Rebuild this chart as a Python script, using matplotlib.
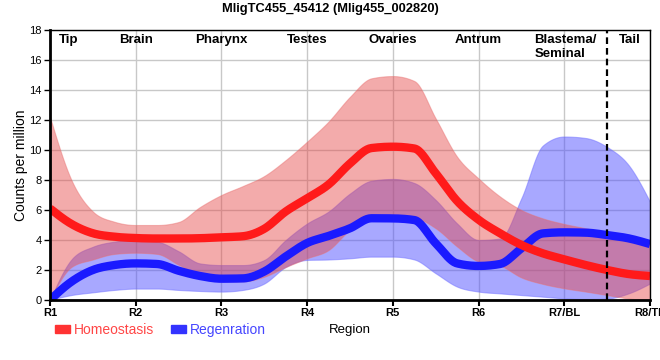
import numpy as np
import matplotlib
matplotlib.use('Agg')
import matplotlib.pyplot as plt
from matplotlib.patches import Patch

plt.rcParams['font.family'] = ['Liberation Sans', 'DejaVu Sans']

regions = ['R1', 'R2', 'R3', 'R4', 'R5', 'R6', 'R7/BL', 'R8/TL']
tissues = ['Tip', 'Brain', 'Pharynx', 'Testes', 'Ovaries', 'Antrum', 'Blastema/\nSeminal', 'Tail']

# values read every quarter region: R1, R1.25, R1.5, ... R8
homeo_mid = [6.1, 5.07, 4.45, 4.22, 4.13, 4.1, 4.1, 4.12, 4.18, 4.25, 4.75, 5.9, 6.78, 7.7, 9.1,
             10.13, 10.22, 10.1, 8.45, 6.6, 5.35, 4.45, 3.67, 3.11, 2.71, 2.33, 2.0, 1.73, 1.6]
homeo_lo = [0.0, 2.2, 2.7, 3.07, 3.15, 3.07, 2.35, 1.67, 1.25, 1.25, 1.55, 2.2, 2.78, 3.33, 4.67,
            5.38, 5.44, 5.44, 4.78, 3.56, 2.56, 2.3, 1.5, 1.07, 0.78, 0.56, 0.33, 0.1, 0.0]
homeo_hi = [12.2, 8.0, 5.9, 5.22, 5.0, 5.0, 5.2, 6.2, 7.0, 7.6, 8.27, 9.33, 10.56, 11.9, 13.55,
            14.78, 14.93, 14.6, 12.1, 9.55, 8.1, 6.9, 6.0, 5.44, 5.07, 4.78, 4.44, 4.11, 3.73]
regen_mid = [0.0, 1.22, 2.0, 2.33, 2.44, 2.4, 1.95, 1.6, 1.42, 1.44, 1.9, 2.9, 3.8, 4.27, 4.78,
             5.45, 5.44, 5.33, 3.78, 2.44, 2.27, 2.4, 3.44, 4.44, 4.51, 4.49, 4.33, 4.11, 3.73]
regen_lo = [0.0, 0.33, 0.51, 0.67, 0.76, 0.76, 0.67, 0.6, 0.56, 0.67, 1.1, 2.2, 2.67, 2.7, 2.78,
            2.89, 2.89, 2.7, 1.78, 0.89, 0.56, 0.44, 0.33, 0.22, 0.11, 0.07, 0.1, 0.44, 1.1]
regen_hi = [0.0, 2.7, 3.55, 3.89, 4.0, 3.89, 3.25, 2.44, 2.33, 2.33, 2.67, 4.0, 5.1, 5.9, 7.1,
            7.95, 8.07, 7.8, 6.67, 5.1, 4.0, 4.1, 6.8, 10.3, 10.9, 10.8, 10.2, 9.0, 6.55]


def monotone(x, y, n=20):
    # monotone cubic (like d3 curveMonotoneX), only used to draw the smooth curves
    x = np.asarray(x, float)
    y = np.asarray(y, float)
    h = np.diff(x)
    s = np.diff(y) / h
    m = np.zeros_like(y)
    for k in range(1, len(y) - 1):
        p = (s[k - 1] * h[k] + s[k] * h[k - 1]) / (h[k - 1] + h[k])
        m[k] = (np.sign(s[k - 1]) + np.sign(s[k])) * min(abs(s[k - 1]), abs(s[k]), 0.5 * abs(p))
    m[0] = (3 * s[0] - m[1]) / 2
    m[-1] = (3 * s[-1] - m[-2]) / 2
    xs, ys = [], []
    for k in range(len(h)):
        t = np.linspace(0, 1, n, endpoint=(k == len(h) - 1))
        h00 = 2 * t**3 - 3 * t**2 + 1
        h10 = t**3 - 2 * t**2 + t
        h01 = -2 * t**3 + 3 * t**2
        h11 = t**3 - t**2
        xs.append(x[k] + t * h[k])
        ys.append(h00 * y[k] + h10 * h[k] * m[k] + h01 * y[k + 1] + h11 * h[k] * m[k + 1])
    return np.concatenate(xs), np.concatenate(ys)


pos = np.arange(len(homeo_mid)) / 4.0

fig = plt.figure(figsize=(6.6, 3.6), dpi=100)
ax = fig.add_axes([50 / 660, 60 / 360, 600 / 660, 270 / 360])

# regeneration first, homeostasis band drawn over it
xx, lo = monotone(pos, regen_lo)
_, hi = monotone(pos, regen_hi)
ax.fill_between(xx, lo, hi, color='#5252ff', alpha=0.5, lw=0.8, edgecolor='#7070ff')
xx, mid = monotone(pos, regen_mid)
ax.plot(xx, mid, color='#1a1aff', lw=6, solid_capstyle='butt')

xx, lo = monotone(pos, homeo_lo)
_, hi = monotone(pos, homeo_hi)
ax.fill_between(xx, lo, hi, color='#e64545', alpha=0.45, lw=0.8, edgecolor='#e87070')
xx, mid = monotone(pos, homeo_mid)
ax.plot(xx, mid, color='#ff1a1a', lw=6, solid_capstyle='butt')

ax.axvline(6.5, color='black', lw=1.6, ls=(0, (3, 1.8)))

ax.set_xlim(0, 7)
ax.set_ylim(0, 18)
ax.set_xticks(range(len(regions)))
ax.set_xticklabels(regions, fontsize=8, fontweight='bold')
ax.set_yticks(range(0, 19, 2))
ax.tick_params(axis='y', labelsize=8, length=4, width=1, pad=2)
ax.tick_params(axis='x', length=4, width=1.5, pad=2)
ax.grid(True, color='#c8c8c8', lw=1)
ax.set_axisbelow(True)
for side in ['left', 'bottom']:
    ax.spines[side].set_linewidth(2)
for side in ['top', 'right']:
    ax.spines[side].set_linewidth(1)

tissue_x = [0.22, 1, 2, 3, 4, 5, 5.65, 6.77]
for tx, name in zip(tissue_x, tissues):
    if '\n' in name:
        ax.text(tx, 17.75, name, ha='left', va='top', fontsize=9.5, fontweight='bold', linespacing=1.2)
    else:
        ax.text(tx, 17.75, name, ha='center', va='top', fontsize=9.5, fontweight='bold')

ax.set_ylabel('Counts per million', fontsize=10, labelpad=0.5)
fig.text(350 / 660, 1 - 330 / 360, 'Region', ha='center', va='center', fontsize=9.5)
fig.text(330 / 660, 1 - 9 / 360, 'MligTC455_45412 (Mlig455_002820)', ha='center', va='center',
         fontsize=9.3, fontweight='bold')

handles = [Patch(color='#ff3333'), Patch(color='#3333ff')]
fig.legend(handles, ['Homeostasis', 'Regenration'], loc='center left',
           bbox_to_anchor=(55 / 660, 1 - 330 / 360), ncol=2, frameon=False, fontsize=10,
           labelcolor=['#ff4646', '#4646ff'], handlelength=1.1, handleheight=0.5,
           handletextpad=0.25, columnspacing=1.2, borderpad=0, borderaxespad=0)

fig.savefig('out.png', dpi=100)
